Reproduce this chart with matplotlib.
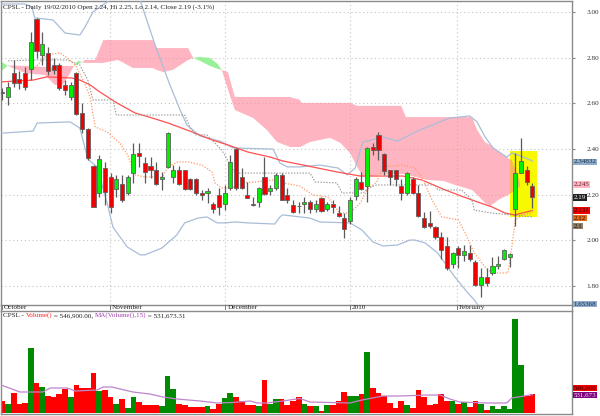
import matplotlib
matplotlib.use('Agg')
import matplotlib.pyplot as plt
import matplotlib.transforms as mtrans
from matplotlib.patches import Rectangle
from matplotlib.lines import Line2D
import numpy as np

# ---------------- data ----------------
idx = list(range(-1, 93))
opens = [2.650, 2.628, 2.733, 2.707, 2.733, 2.751, 2.969, 2.812, 2.821, 2.768, 2.768,
         2.681, 2.628, 2.733, 2.558, 2.488, 2.326, 2.208, 2.317, 2.278, 2.225, 2.247,
         2.208, 2.295, 2.383, 2.339, 2.326, 2.309, 2.269, 2.322, 2.278, 2.309, 2.309,
         2.269, 2.269, 2.208, 2.208, 2.160, 2.199, 2.160, 2.230, 2.400, 2.278, 2.199,
         2.160, 2.168, 2.278, 2.217, 2.230, 2.287, 2.199, 2.155, 2.151, 2.160, 2.168,
         2.138, 2.186, 2.138, 2.160, 2.120, 2.098, 2.085, 2.195, 2.256, 2.238, 2.409,
         2.462, 2.379, 2.309, 2.309, 2.238, 2.208, 2.269, 2.208, 2.098, 2.077, 2.059,
         2.015, 1.976, 1.897, 1.967, 1.937, 1.945, 1.906, 1.805, 1.840, 1.858, 1.889,
         1.919, 1.928, 2.138, 2.295, 2.309, 2.24]
highs = [2.667, 2.694, 2.790, 2.742, 2.760, 2.912, 2.974, 2.912, 2.847, 2.799, 2.777,
         2.702, 2.694, 2.737, 2.602, 2.492, 2.330, 2.374, 2.344, 2.295, 2.287, 2.287,
         2.287, 2.427, 2.427, 2.365, 2.365, 2.344, 2.300, 2.475, 2.330, 2.326, 2.309,
         2.274, 2.274, 2.221, 2.230, 2.168, 2.230, 2.243, 2.374, 2.405, 2.317, 2.256,
         2.190, 2.234, 2.365, 2.243, 2.295, 2.295, 2.230, 2.177, 2.168, 2.190, 2.177,
         2.177, 2.190, 2.168, 2.177, 2.151, 2.120, 2.190, 2.278, 2.300, 2.409, 2.427,
         2.475, 2.383, 2.309, 2.309, 2.269, 2.300, 2.278, 2.243, 2.125, 2.129, 2.063,
         2.037, 2.015, 1.950, 1.976, 1.980, 1.980, 1.915, 1.880, 1.880, 1.928, 1.932,
         1.963, 1.945, 2.383, 2.449, 2.326, 2.25]
lows = [2.615, 2.593, 2.672, 2.663, 2.659, 2.702, 2.799, 2.768, 2.724, 2.729, 2.659,
        2.637, 2.615, 2.549, 2.470, 2.352, 2.147, 2.190, 2.155, 2.120, 2.190, 2.168,
        2.199, 2.252, 2.322, 2.252, 2.274, 2.243, 2.221, 2.317, 2.252, 2.243, 2.221,
        2.221, 2.199, 2.177, 2.164, 2.120, 2.112, 2.134, 2.221, 2.221, 2.225, 2.186,
        2.151, 2.147, 2.199, 2.199, 2.221, 2.177, 2.164, 2.120, 2.120, 2.120, 2.120,
        2.125, 2.125, 2.129, 2.120, 2.103, 2.011, 2.072, 2.177, 2.221, 2.168, 2.374,
        2.352, 2.287, 2.243, 2.238, 2.177, 2.199, 2.204, 2.103, 2.055, 2.055, 2.006,
        1.919, 1.871, 1.880, 1.880, 1.910, 1.910, 1.801, 1.753, 1.801, 1.849, 1.875,
        1.915, 1.884, 2.063, 2.295, 2.243, 2.14]
closes = [2.645, 2.672, 2.689, 2.689, 2.672, 2.869, 2.829, 2.860, 2.742, 2.746, 2.667,
          2.659, 2.681, 2.554, 2.488, 2.361, 2.147, 2.357, 2.212, 2.147, 2.269, 2.177,
          2.278, 2.379, 2.370, 2.300, 2.309, 2.247, 2.278, 2.470, 2.309, 2.247, 2.225,
          2.225, 2.208, 2.199, 2.217, 2.138, 2.147, 2.208, 2.344, 2.230, 2.230, 2.186,
          2.157, 2.230, 2.204, 2.230, 2.287, 2.177, 2.177, 2.125, 2.149, 2.168, 2.138,
          2.160, 2.129, 2.160, 2.147, 2.107, 2.050, 2.177, 2.269, 2.225, 2.405, 2.396,
          2.396, 2.304, 2.278, 2.269, 2.208, 2.295, 2.208, 2.107, 2.059, 2.063, 2.015,
          1.958, 1.880, 1.945, 1.937, 1.954, 1.919, 1.805, 1.840, 1.814, 1.888, 1.897,
          1.958, 1.941, 2.295, 2.348, 2.256, 2.19]
volumes = [348000, 270000, 580000, 270000, 300000, 1885000, 880000, 754000, 493000,
           454000, 551000, 686000, 464000, 822000, 715000, 715000, 1170000, 628000,
           657000, 464000, 270000, 416000, 145000, 454000, 309000, 242000, 242000,
           242000, 213000, 1073000, 686000, 270000, 242000, 174000, 174000, 174000,
           213000, 116000, 261000, 445000, 570000, 454000, 348000, 242000, 242000,
           203000, 947000, 270000, 396000, 396000, 242000, 348000, 464000, 270000,
           203000, 203000, 48000, 222000, 242000, 338000, 609000, 493000, 493000,
           541000, 1760000, 715000, 580000, 483000, 290000, 145000, 358000, 242000,
           145000, 657000, 464000, 242000, 261000, 561000, 338000, 338000, 270000,
           319000, 164000, 338000, 261000, 97000, 193000, 126000, 203000, 126000,
           2720000, 1380000, 483000, 546900]

# Bollinger bands (vertices: bar index, price)
bb_up_x = [-1.23, 3.0, 4.2, 4.7, 7.9, 10.0, 12.6, 13.5, 14.9, 16.1, 17.5, 19.0, 22.0,
           23.2, 26.1, 28.4, 30.2, 31.4, 33.7, 37.2, 39.5, 46.5, 47.7, 49.0, 51.2,
           54.7, 57.9, 59.5, 60.9, 62.3, 65.8, 68.3, 72.3, 77.5, 81.0, 82.3, 83.7,
           85.1, 87.5, 88.4, 89.5, 92.0]
bb_up_y = [3.035, 3.035, 3.022, 2.974, 2.965, 2.908, 2.899, 2.934, 3.000, 3.022, 3.045,
           3.070, 3.080, 3.050, 2.834, 2.681, 2.571, 2.505, 2.457, 2.435, 2.405, 2.400,
           2.339, 2.322, 2.322, 2.330, 2.317, 2.287, 2.317, 2.431, 2.453, 2.435, 2.484,
           2.536, 2.545, 2.519, 2.453, 2.405, 2.365, 2.383, 2.374, 2.34832]
bb_lo_x = [-1.23, -0.9, 4.4, 5.1, 10.9, 12.6, 14.0, 15.6, 17.4, 18.4, 20.9, 23.2, 24.0,
           27.0, 29.6, 31.0, 33.3, 34.9, 36.7, 38.1, 39.8, 42.1, 46.8, 47.7, 48.2,
           53.0, 54.7, 60.0, 62.1, 64.0, 65.8, 68.3, 70.5, 71.4, 73.2, 75.4, 78.4,
           80.7, 81.8, 83.7, 86.3, 89.0, 92.0]
bb_lo_y = [2.470, 2.470, 2.479, 2.514, 2.519, 2.492, 2.357, 2.322, 2.164, 2.059, 1.972,
           1.937, 1.937, 1.967, 2.024, 2.077, 2.098, 2.103, 2.077, 2.077, 2.081, 2.077,
           2.072, 2.103, 2.112, 2.098, 2.081, 2.077, 2.046, 1.994, 1.976, 1.980, 2.002,
           2.002, 1.989, 1.945, 1.840, 1.770, 1.740, 1.674, 1.608, 1.617, 1.65368]

# Moving average (red)
ma_x = [-1.23, 4.4, 6.8, 11.2, 12.6, 14.4, 16.1, 19.1, 22.3, 25.3, 28.1, 32.3, 35.8,
        38.6, 42.1, 46.0, 48.2, 51.8, 57.7, 61.8, 65.3, 69.3, 72.6, 76.7, 81.4, 84.9,
        87.2, 88.9, 92.0]
ma_y = [2.694, 2.702, 2.716, 2.711, 2.702, 2.681, 2.650, 2.602, 2.558, 2.536, 2.514,
        2.475, 2.440, 2.418, 2.387, 2.365, 2.348, 2.330, 2.300, 2.282, 2.282, 2.282,
        2.265, 2.221, 2.177, 2.147, 2.120, 2.112, 2.131]

# Conversion line (orange dotted)
conv_x = [4.4, 6.8, 9.1, 10.4, 11.8, 13.2, 14.4, 15.3, 17.4, 19.6, 21.0, 22.3, 24.0,
          27.0, 28.1, 29.8, 31.6, 34.0, 35.8, 36.3, 37.5, 39.3, 41.0, 43.3, 46.8,
          47.7, 48.2, 51.2, 53.5, 56.1, 58.2, 60.0, 61.8, 63.0, 64.7, 65.8, 69.3,
          71.4, 72.6, 74.4, 76.1, 79.0, 80.2, 81.8, 83.7, 84.9, 87.7, 88.4, 89.0,
          90.2, 92.0]
conv_y = [2.746, 2.812, 2.821, 2.799, 2.768, 2.702, 2.628, 2.497, 2.475, 2.427, 2.374,
          2.287, 2.278, 2.278, 2.322, 2.344, 2.344, 2.330, 2.300, 2.252, 2.230, 2.230,
          2.252, 2.256, 2.265, 2.265, 2.252, 2.238, 2.199, 2.190, 2.120, 2.120, 2.164,
          2.221, 2.256, 2.322, 2.330, 2.317, 2.278, 2.177, 2.103, 2.090, 2.033, 1.945,
          1.884, 1.858, 1.858, 1.972, 2.090, 2.112, 2.120]

# Base line (grey dotted)
base_x = [0.0, 4.4, 10.4, 12.6, 14.0, 14.9, 18.4, 19.0, 31.0, 31.9, 32.8, 34.9, 37.5,
          39.8, 46.8, 53.0, 53.9, 57.7, 58.6, 62.3, 63.2, 64.7, 74.9, 75.4, 79.6,
          81.4, 81.8, 84.9, 92.0]
base_y = [2.786, 2.790, 2.790, 2.768, 2.702, 2.615, 2.615, 2.549, 2.549, 2.497, 2.462,
          2.462, 2.396, 2.295, 2.295, 2.295, 2.256, 2.252, 2.208, 2.208, 2.230, 2.243,
          2.243, 2.221, 2.221, 2.177, 2.133, 2.120, 2.103]

# Cloud (leading spans)
cloud_x = [-1.23, 0.0, 3.0, 6.5, 8.2, 9.6, 10.9, 11.6, 12.3, 13.0, 13.5, 15.3, 16.7,
           19.3, 21.9, 25.4, 26.1, 27.2, 28.9, 31.6, 32.5, 33.7, 35.4, 36.8, 37.5,
           38.6, 39.8, 43.0, 45.4, 47.2, 49.5, 51.2, 51.5, 53.0, 56.5, 58.3, 60.0,
           61.3, 62.3, 65.3, 69.0, 69.8, 73.5, 76.5, 78.4, 81.4, 82.3, 83.7, 84.6,
           86.0, 87.7, 88.4, 89.8]
span_a = [2.783, 2.764, 2.733, 2.724, 2.681, 2.681, 2.733, 2.766, 2.786, 2.781, 2.777,
          2.777, 2.777, 2.790, 2.755, 2.755, 2.746, 2.737, 2.746, 2.790, 2.799, 2.803,
          2.799, 2.772, 2.746, 2.660, 2.571, 2.536, 2.484, 2.431, 2.409, 2.409, 2.412,
          2.431, 2.449, 2.427, 2.383, 2.320, 2.278, 2.287, 2.291, 2.289, 2.265, 2.260,
          2.243, 2.221, 2.200, 2.164, 2.151, 2.177, 2.199, 2.210, 2.235]
span_b = [2.740, 2.766, 2.764, 2.759, 2.759, 2.764, 2.764, 2.764, 2.772, 2.781, 2.790,
          2.790, 2.877, 2.877, 2.877, 2.877, 2.842, 2.842, 2.842, 2.842, 2.799, 2.786,
          2.764, 2.751, 2.746, 2.737, 2.628, 2.628, 2.628, 2.628, 2.628, 2.615, 2.602,
          2.602, 2.602, 2.602, 2.602, 2.589, 2.589, 2.589, 2.589, 2.540, 2.540, 2.540,
          2.540, 2.540, 2.484, 2.430, 2.418, 2.390, 2.361, 2.350, 2.255]

# Volume moving average (15)
vma_x = [-1.23, 2.1, 6.1, 7.4, 10.4, 11.8, 15.6, 16.7, 18.2, 21.9, 24.9, 27.2, 29.6,
         33.7, 36.7, 39.5, 42.5, 43.7, 45.4, 48.2, 51.2, 53.0, 60.0, 62.1, 65.8, 68.8,
         73.5, 75.8, 77.5, 79.3, 84.0, 87.5, 88.4, 92.0]
vma_y = [812000, 609000, 609000, 725000, 725000, 638000, 667000, 754000, 754000,
         609000, 551000, 464000, 406000, 348000, 290000, 305000, 348000, 290000,
         290000, 348000, 420000, 319000, 290000, 377000, 493000, 493000, 522000,
         522000, 406000, 319000, 290000, 290000, 435000, 531673]

# highlight box (bar index range, price range)
box_idx = (88.07, 92.8)
box_price = (2.102, 2.393)

price_ticks = [3.00, 2.80, 2.60, 2.40, 2.20, 2.00, 1.80]
month_labels = ["October", "November", "December", "2010", "February"]
month_idx = [-1.05, 17.9, 38.1, 60.0, 78.8]

title = "CPSL - Daily 19/02/2010 Open 2.24, Hi 2.25, Lo 2.14, Close 2.19 (-3.1%)"
vol_title_parts = ["CPSL - ", "Volume()", " = 546,900.00, ", "MA(Volume(),15)",
                   " = 531,673.31"]

# ---------------- drawing ----------------
FONT = 'Liberation Serif'
plt.rcParams['font.family'] = FONT

W, H = 600, 416
fig = plt.figure(figsize=(W / 100, H / 100), dpi=100)


def fy(py):
    return 1 - py / H


ax = fig.add_axes([1 / W, fy(304.7), 571 / W, (304.7 - 1) / H])
axv = fig.add_axes([1 / W, fy(414), 571 / W, (414 - 311) / H])

XL = (-1.23, 98.95)
ax.set_xlim(*XL)
ax.set_ylim(1.719, 3.048)
axv.set_xlim(*XL)
axv.set_ylim(-29000, 2.958e6)

spine_c = '#8a8a8a'
for a in (ax, axv):
    for s in a.spines.values():
        s.set_color(spine_c)
        s.set_linewidth(1.0)
    a.set_xticks([])

# grid
for t in price_ticks:
    ax.axhline(t, color='#c4c4c4', lw=0.8, ls=(0, (1, 2.5)), zorder=0.5)
for m in month_idx[1:]:
    ax.axvline(m, color='#c4c4c4', lw=0.8, ls=(0, (1, 2.5)), zorder=0.5)

# highlight box
ax.add_patch(Rectangle((box_idx[0], box_price[0]), box_idx[1] - box_idx[0],
                       box_price[1] - box_price[0], facecolor='#f8f800',
                       edgecolor='none', zorder=1))

# cloud
ca = np.array(span_a)
cb = np.array(span_b)
ax.fill_between(cloud_x, ca, cb, where=cb >= ca, interpolate=True,
                facecolor='#ff8598', alpha=0.6, lw=0, zorder=2)
ax.fill_between(cloud_x, ca, cb, where=ca > cb, interpolate=True,
                facecolor='#98f098', lw=0, zorder=2)

# lines
ax.plot(bb_up_x, bb_up_y, color='#a9bdd8', lw=0.9, zorder=3)
ax.plot(bb_lo_x, bb_lo_y, color='#a9bdd8', lw=0.9, zorder=3)
ax.plot(ma_x, ma_y, color='#ff5050', lw=0.9, zorder=3)
ax.plot(conv_x, conv_y, color='#ff9a66', lw=0.9, ls=(0, (1, 1.3)), zorder=3)
ax.plot(base_x, base_y, color='#9a9a9a', lw=0.8, ls=(0, (1.3, 1.3)), zorder=3)

# candles
o = np.array(opens)
c = np.array(closes)
hi = np.array(highs)
lo = np.array(lows)
x = np.array(idx, dtype=float)
up = c >= o
ax.vlines(x, lo, hi, color='#5a5a5a', lw=0.9, zorder=4)
body_col = np.where(up, '#00f000', '#f00000')
ax.bar(x, np.maximum(np.abs(c - o), 0.002), bottom=np.minimum(o, c), width=0.72,
       color=body_col, edgecolor='#606060', linewidth=0.6, zorder=5)

# right axis ticks
ax.yaxis.tick_right()
ax.set_yticks(price_ticks)
ax.set_yticklabels(['%.2f' % t for t in price_ticks])
ax.tick_params(axis='y', direction='out', length=2, width=0.8, colors=spine_c,
               labelcolor='#333333', labelsize=5.2, pad=8.5)

# value labels on price axis
btrans = mtrans.blended_transform_factory(ax.transAxes, ax.transData)
vlabels = [("2.34832", 2.344, '#8eacce', '#1b2b44'),
           ("2.245", 2.245, '#ffb6c1', '#602030'),
           ("2.19", 2.188, '#222222', '#ffffff'),
           ("2.131", 2.131, '#f20000', '#300000'),
           ("2.12", 2.098, '#e26a1c', '#301000'),
           ("2.1", 2.063, '#8e7c66', '#1a1208'),
           ("1.65368", 1.722, '#8eacce', '#1b2b44')]
for txt, yv, bg, fg in vlabels:
    ax.text(1.003, yv, txt, transform=btrans, fontsize=5.0, color=fg, va='center',
            ha='left', clip_on=False, zorder=10,
            bbox=dict(boxstyle='square,pad=0.12', facecolor=bg, edgecolor='none'))

# volume
vcol = np.where(up, '#008a00', '#ff0000')
axv.bar(x, volumes, width=1.0, color=vcol, edgecolor='none', zorder=2)
axv.plot(vma_x, vma_y, color='#c084cc', lw=0.9, zorder=3)
axv.set_yticks([])
vtrans = mtrans.blended_transform_factory(axv.transAxes, axv.transData)
axv.text(1.003, 725000, "546,900", transform=vtrans, fontsize=5.0, color='#300000',
         va='center', ha='left', clip_on=False, zorder=10,
         bbox=dict(boxstyle='square,pad=0.12', facecolor='#f20000', edgecolor='none'))
axv.text(1.003, 522000, "531,673", transform=vtrans, fontsize=5.0, color='#f0e0f0',
         va='center', ha='left', clip_on=False, zorder=10,
         bbox=dict(boxstyle='square,pad=0.12', facecolor='#800080', edgecolor='none'))

# date strip
dtrans = mtrans.blended_transform_factory(ax.transData, fig.transFigure)
for m, lab in zip(month_idx, month_labels):
    fig.add_artist(Line2D([m, m], [fy(304.7), fy(309)], transform=dtrans,
                          color='#777777', lw=0.7))
    ax.annotate(lab, xy=(m, fy(307.8)), xycoords=dtrans, xytext=(1.5, 0),
                textcoords='offset points', fontsize=5.2, color='#222222',
                va='center', ha='left', annotation_clip=False)
for xx in (1 / W, 572 / W):
    fig.add_artist(Line2D([xx, xx], [fy(311), fy(304.7)], color=spine_c, lw=1.0))

# titles
fig.text(3 / W, fy(7), title, fontsize=5.1, color='#222222', va='center', ha='left')
part_colors = ['#222222', '#ff2020', '#222222', '#a040b0', '#222222']
prev = fig.text(3 / W, fy(315.5), vol_title_parts[0], fontsize=5.1,
                color=part_colors[0], va='center', ha='left')
for txt, col in zip(vol_title_parts[1:], part_colors[1:]):
    prev = axv.annotate(txt, xy=(1, 0.5), xycoords=prev, va='center', ha='left',
                        fontsize=5.1, color=col, annotation_clip=False)

fig.savefig('out.png', dpi=100)
